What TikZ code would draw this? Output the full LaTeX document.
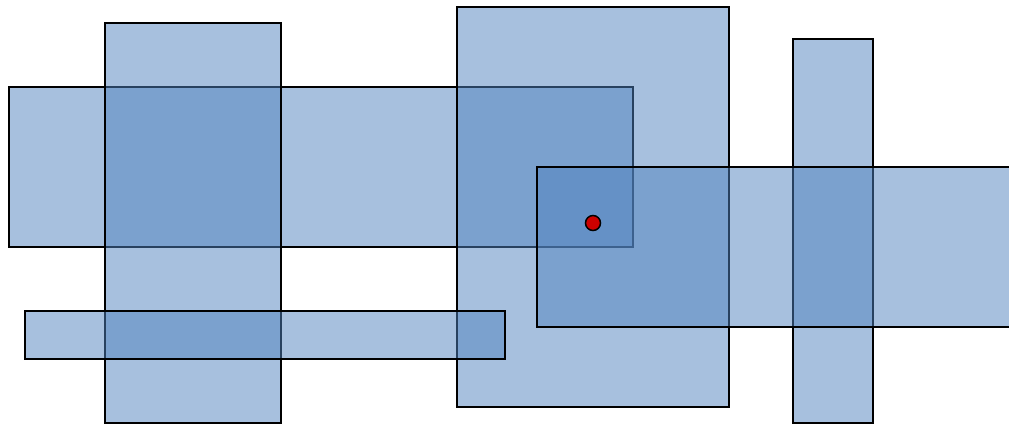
\documentclass[tikz,border=0pt]{standalone}
\begin{document}
\begin{tikzpicture}[x=1pt,y=-1pt,
  box/.style={draw=black,line width=2pt,fill={rgb,255:red,80;green,130;blue,190},fill opacity=0.5,draw opacity=1},
  dotstyle/.style={circle,draw=black,line width=1.5pt,fill={rgb,255:red,204;green,0;blue,0},minimum size=15pt,inner sep=0pt}]
\useasboundingbox (0,0) rectangle (1009,424);
\clip (0,0) rectangle (1009,424);
\draw[box] (9,87) rectangle (633,247);
\draw[box] (105,23) rectangle (281,423);
\draw[box] (457,7) rectangle (729,407);
\draw[box] (25,311) rectangle (505,359);
\draw[box] (793,39) rectangle (873,423);
\draw[box] (537,167) rectangle (1020,327);
\node[dotstyle] (p) at (593,223) {};
\end{tikzpicture}
\end{document}
